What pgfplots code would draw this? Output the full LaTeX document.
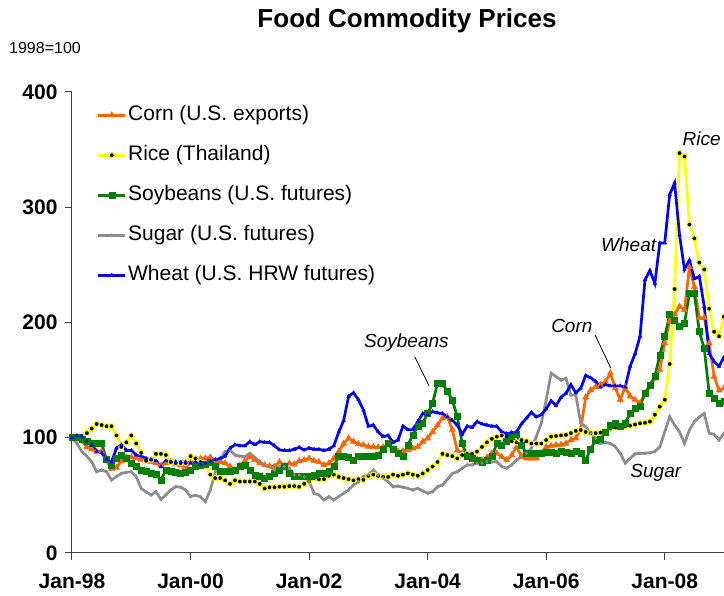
\documentclass[border=0pt]{standalone}
\usepackage{pgfplots}
\pgfplotsset{compat=1.18}
\usepackage{pgfplotstable}
\usepackage{fontspec}
\setmainfont{Liberation Sans}
\definecolor{corn}{HTML}{FF6600}
\definecolor{rice}{HTML}{FFFF00}
\definecolor{soy}{HTML}{008000}
\definecolor{sugar}{HTML}{8C8C8C}
\definecolor{wheat}{HTML}{0000FF}

\pgfplotstableread{
m corn rice soy sugar wheat
0 100 100 100 100 100
1 99 100 100 95 102
2 97 100 98.6 88 101.5
3 92 104 96.6 84 97
4 90 108 95 79 93.7
5 88 112 95 70.5 88
6 88 111 95 72 87
7 80 110 81 70.5 81
8 73 110 76 63.3 79
9 74 102 82 66.3 91
10 80 92 85 69 94
11 83 96 82 70 89
12 83 102 78 70.5 89
13 82 95 75 66.3 85
14 81 87 72 56 84
15 80.7 80 71 53 82
16 79 81 69 50.3 81
17 78 86 68 53.2 80
18 76 86 63.4 46.6 75
19 78 85 72 50.3 80
20 79 79 70.5 54.7 79
21 77 78 70 57.5 79
22 76 78 69 57 79
23 75 78 70 54.7 79
24 78 84 72 48.9 78
25 80 82 75 50 79
26 82 79 76.3 48.9 77
27 82 76 77 44.5 78
28 83 68 78.4 54.7 79
29 80 65 75 70 81
30 79 65 70.5 80.7 82
31 78 63 70.5 88 84
32 75 60 70.5 89.4 91
33 72 63 72 85 94
34 76 62 75 84 93
35 80 62 76.3 83.6 93
36 83.6 62 72 86.5 96.6
37 80.7 62 67.7 83 94
38 78 60 66.3 79 96.6
39 76.3 56 65 76.3 96
40 75.5 57 66.3 75 96
41 75 57 69 72 93
42 79 57.5 72 75 89.4
43 75.5 57.5 75.5 75 89
44 77.8 58 69 73.5 89
45 77 58 66.3 67.7 90
46 79.8 57.5 66.3 67.7 91.7
47 80.7 60 66.3 66 89.4
48 82 62 67 62 91
49 80 65 67.7 51.8 90
50 79 64 69 50.3 90
51 76.3 64 69 46 89
52 77.8 67 70.5 48.9 90
53 82 68 75.5 46 93
54 88 66 83.6 48.9 105
55 95 65 83.6 51.8 115
56 99.5 64 83 54.7 136
57 96.6 63 80.7 59 139
58 94.6 64 83.6 61.9 133
59 93.7 63.5 83.6 66.3 124
60 92.2 67 83.6 68 110
61 92 68 83.6 72 111
62 91.7 67 85 67.7 105
63 92 66 90 65 101
64 93.7 66 95 61.9 102
65 90 68 90 57.5 96
66 88 67 86.5 58.1 98
67 88.5 68 83.6 57 110
68 89.4 69 93.7 56.1 107
69 90.8 68 102.4 54.7 107
70 92.2 67 109.6 56.1 114
71 96.6 69 112.5 54 121
72 99.5 72 121 51.8 120
73 105 75 130 53.2 122.6
74 111 79 147 57.5 121.5
75 117 86 147 59 121
76 118 85 140 64 118
77 107 84 132.8 69 115
78 89 82 118.3 70.5 111
79 86.5 85 95 73.5 103
80 83.6 86 83.6 76.3 110
81 80.7 86 82 76.5 109
82 81 88 80.7 77.8 114
83 80.7 92 79 78 112
84 83 96 80.7 79.2 111
85 86.5 99 83.6 79 110
86 86.5 101 95 79.2 110
87 83.6 102 93.7 75 105
88 80.7 101 96.6 73.5 103.5
89 85 97 101 76.3 104.5
90 92 96 103 80.7 105
91 83.6 98 93.7 83.6 112
92 82 97 86.5 86.5 117
93 82 95 86.5 90.8 122
94 82 95 86.5 101 118
95 86.5 95 86.5 112.5 120
96 92 98 87 132.8 125
97 93 101 87 156 132
98 93.7 101.5 86.5 153 128
99 94 102 88 150 135
100 95 102.5 87 151.6 138.6
101 98 104 86.5 137 146
102 99.5 106 88 137 139
103 108 106.7 86.5 112.5 143
104 135 105 80.7 109.6 154
105 141.4 104 90 104 152
106 144 104 98 99.5 149
107 146 104.5 98.6 95 144
108 148.6 106 105 96 146
109 156 108 111 95 145
110 143 109 112.5 92.2 145
111 133 109.5 110 86.5 145
112 144 110 113 78 144
113 136 110.5 121 82 162
114 133 111.5 125.5 86 173
115 130 112.5 127 86.5 188
116 138.6 113 138.6 86.5 237
117 144 114 145.8 87 245
118 151.6 120 153 88 234
119 159 127 171.8 92 269
120 182 133 187.7 105 269
121 201 164 207 118.3 311
122 207 229 202 111 321
123 214 347 196.4 105 276
124 211 344 199.3 95 246
125 248 285 225 106.7 254
126 231 273 225 114 238
127 204 252 192 118 240
128 204 246 177.6 121 214
129 182 212 138.6 104 173
130 153 192 134 103 166
131 141 188 130 98 162
132 143 205 132 104 170
133 145 215 134 104 175
}\datatable

\begin{document}
\begin{tikzpicture}
\begin{axis}[
  at={(72pt,43pt)}, anchor=south west,
  scale only axis, width=652pt, height=461pt,
  xmin=0, xmax=132, ymin=0, ymax=400,
  axis lines*=left,
  axis line style={black!75, line width=1pt},
  xtick={0,24,48,72,96,120},
  xticklabels={Jan-98,Jan-00,Jan-02,Jan-04,Jan-06,Jan-08},
  ytick={0,100,200,300,400},
  tick align=outside,
  major tick length=7pt,
  tick style={black!75, line width=1pt},
  ticklabel style={font=\fontsize{21}{25}\selectfont\bfseries},
  xticklabel style={yshift=-10pt},
  yticklabel style={xshift=-4pt},
  /pgf/number format/assume math mode=true,
  legend style={at={(0.038,0.975)}, anchor=north west, draw=none, fill=none,
    font=\fontsize{21}{25}\selectfont, row sep=17pt, inner sep=0pt,
    nodes={inner sep=1.5pt, text height=15pt, text depth=5pt}},
  legend cell align=left,
  legend image code/.code={\draw[mark repeat=2,mark phase=2] plot coordinates {(0pt,0pt)(13.5pt,0pt)(27pt,0pt)};},
  every axis plot/.append style={line width=2.7pt},
]
\addplot[color=corn, mark=triangle*, mark size=3.5pt, mark options={solid, line width=0.5pt}] table[x=m,y=corn] {\datatable};
\addlegendentry{Corn (U.S. exports)}
\addplot[color=rice, mark=*, mark size=2.6pt, mark options={fill=black, draw=rice, line width=1pt}] table[x=m,y=rice] {\datatable};
\addlegendentry{Rice (Thailand)}
\addplot[color=soy, mark=square*, mark size=3pt, mark options={solid, line width=0.5pt}] table[x=m,y=soy] {\datatable};
\addlegendentry{Soybeans (U.S. futures)}
\addplot[color=sugar, mark=diamond*, mark size=1.5pt, mark options={line width=0.5pt}] table[x=m,y=sugar] {\datatable};
\addlegendentry{Sugar (U.S. futures)}
\addplot[color=wheat, mark=triangle*, mark size=2pt, mark options={line width=0.5pt}] table[x=m,y=wheat] {\datatable};
\addlegendentry{Wheat (U.S. HRW futures)}

\node[font=\fontsize{19}{22}\selectfont\itshape] at (axis cs:67.7,182.6) {Soybeans};
\draw[black, line width=0.8pt] (axis cs:69.4,170.3) -- (axis cs:72.3,144.9);
\node[font=\fontsize{19}{22}\selectfont\itshape] at (axis cs:101.2,197.4) {Corn};
\draw[black, line width=0.8pt] (axis cs:105.9,189.2) -- (axis cs:109.1,160.3);
\node[font=\fontsize{19}{22}\selectfont\itshape] at (axis cs:112.7,267.2) {Wheat};
\node[font=\fontsize{19}{22}\selectfont\itshape, anchor=west, inner sep=1pt] at (axis cs:123.4,359.2) {Rice};
\node[font=\fontsize{19}{22}\selectfont\itshape] at (axis cs:118.2,69.4) {Sugar};
\end{axis}
\node[font=\fontsize{26}{30}\selectfont\bfseries] at (407pt,575pt) {Food Commodity Prices};
\node[font=\fontsize{16}{19}\selectfont, anchor=west, inner sep=0pt] at (9pt,548pt) {1998=100};
\pgfresetboundingbox
\path (0pt,0pt) rectangle (724pt,596pt);
\end{tikzpicture}
\end{document}
